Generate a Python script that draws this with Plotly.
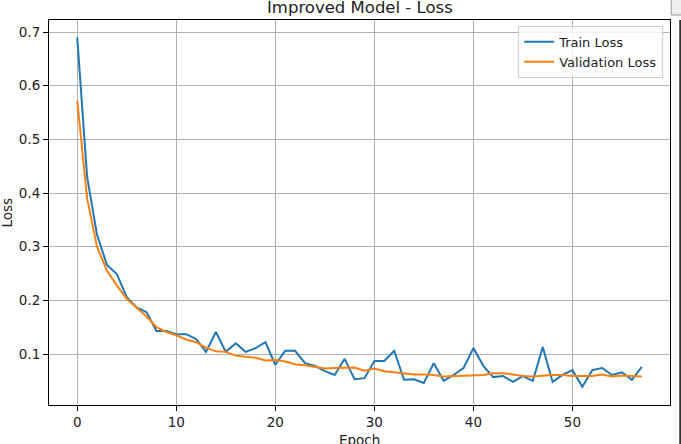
import plotly.graph_objects as go

epochs = list(range(58))

train_loss = [0.690, 0.430, 0.322, 0.266, 0.249, 0.206, 0.187, 0.178, 0.143, 0.143,
              0.137, 0.137, 0.128, 0.104, 0.141, 0.104, 0.120, 0.104, 0.111, 0.122,
              0.080, 0.106, 0.106, 0.083, 0.078, 0.068, 0.061, 0.091, 0.053, 0.055,
              0.087, 0.087, 0.106, 0.052, 0.053, 0.046, 0.083, 0.050, 0.061, 0.074,
              0.111, 0.078, 0.057, 0.059, 0.048, 0.059, 0.050, 0.113, 0.048, 0.061,
              0.070, 0.039, 0.070, 0.074, 0.061, 0.066, 0.052, 0.076]

val_loss = [0.572, 0.390, 0.300, 0.255, 0.228, 0.203, 0.186, 0.170, 0.150, 0.141,
            0.135, 0.127, 0.122, 0.112, 0.105, 0.104, 0.097, 0.095, 0.093, 0.088,
            0.089, 0.086, 0.081, 0.079, 0.076, 0.073, 0.074, 0.075, 0.075, 0.069,
            0.073, 0.068, 0.066, 0.064, 0.062, 0.062, 0.061, 0.058, 0.059, 0.060,
            0.060, 0.061, 0.064, 0.064, 0.062, 0.059, 0.058, 0.060, 0.061, 0.061,
            0.059, 0.059, 0.059, 0.062, 0.058, 0.060, 0.059, 0.058]

font_name = "DejaVu Sans"

fig = go.Figure()
fig.add_trace(go.Scatter(x=epochs, y=train_loss, mode='lines', name='Train Loss',
                         line=dict(color='#1f77b4', width=2)))
fig.add_trace(go.Scatter(x=epochs, y=val_loss, mode='lines', name='Validation Loss',
                         line=dict(color='#ff7f0e', width=2)))

axis_style = dict(
    showgrid=True, gridcolor='#b0b0b0', gridwidth=1,
    showline=True, linecolor='black', linewidth=1, mirror=True,
    ticks='outside', ticklen=5, tickcolor='black', tickwidth=1,
    zeroline=False, tickfont=dict(family=font_name, size=13.5, color='#222'),
)

fig.update_xaxes(range=[-2.85, 59.85], tickvals=[0, 10, 20, 30, 40, 50], **axis_style)
fig.update_yaxes(range=[0.005, 0.7224], tickvals=[0.1, 0.2, 0.3, 0.4, 0.5, 0.6, 0.7],
                 tickformat='.1f', **axis_style)

fig.update_layout(
    width=681, height=444,
    margin=dict(l=49, r=11, t=20, b=39),
    plot_bgcolor='white', paper_bgcolor='white',
    font=dict(family=font_name, color='#222'),
    showlegend=True,
    legend=dict(x=0.989, y=0.985, xanchor='right', yanchor='top',
                bgcolor='rgba(255,255,255,0.8)', bordercolor='#d0d0d0', borderwidth=1,
                font=dict(family=font_name, size=13), tracegroupgap=0, itemwidth=30),
    annotations=[
        dict(text='Improved Model - Loss', xref='paper', yref='paper', x=0.5, y=1,
             xanchor='center', yanchor='bottom', yshift=1, showarrow=False,
             font=dict(family=font_name, size=16.5, color='#222')),
        dict(text='Loss', xref='paper', yref='paper', x=0, y=0.5, textangle=-90,
             xanchor='center', yanchor='middle', xshift=-43, showarrow=False,
             font=dict(family=font_name, size=13.5, color='#222')),
        dict(text='Epoch', xref='paper', yref='paper', x=0.5, y=0,
             xanchor='center', yanchor='top', yshift=-25, showarrow=False,
             font=dict(family=font_name, size=13.5, color='#222')),
    ],
    shapes=[
        # bits of the neighbouring panel visible at the right edge
        dict(type='line', xref='paper', yref='paper', x0=1.0165, x1=1.0165, y0=-0.2, y1=1.0,
             line=dict(color='#333', width=2)),
        dict(type='rect', xref='paper', yref='paper', x0=1.002, x1=1.03, y0=1.013, y1=1.06,
             line=dict(color='#999', width=1), fillcolor='#eee'),
    ],
)

fig.write_html("out.html", config={'displayModeBar': False},
               post_script="document.body.style.margin='0';")
